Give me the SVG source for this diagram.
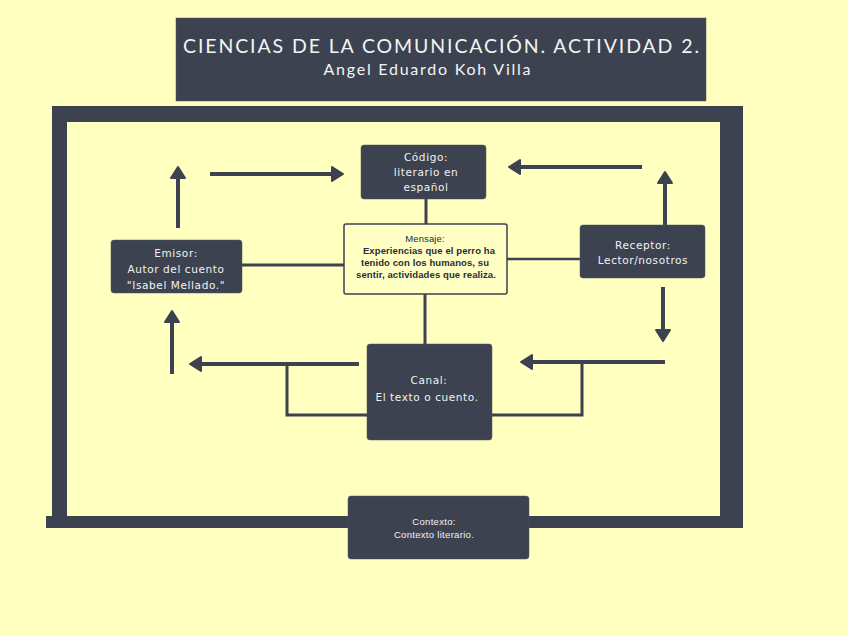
<svg xmlns="http://www.w3.org/2000/svg" width="848" height="636" viewBox="0 0 848 636">
<defs>
<style>
.dark{fill:#3d4250;stroke:#50556180;stroke-width:1}
.t{font-family:"DejaVu Sans",sans-serif;fill:#f2f2f2;text-anchor:middle}
.n{font-size:10.5px;letter-spacing:0.6px}
.m{font-family:"Liberation Sans",Arial,sans-serif;fill:#2a2d36;text-anchor:middle;font-size:9.5px;font-weight:bold;letter-spacing:0.1px}
.ln{stroke:#3d4250;stroke-width:3;fill:none}
.ar{stroke:#3d4250;stroke-width:4;fill:none;marker-end:url(#ah)}
.fr{fill:#3d4250}
.hd{font-family:"Lato","Open Sans",sans-serif;fill:#f4f4f4;text-anchor:middle;font-weight:400}
</style>
<marker id="ah" viewBox="-2 -9 15 18" refX="0" refY="0" markerWidth="15" markerHeight="18" markerUnits="userSpaceOnUse" orient="auto">
<path d="M0,-7 L11,0 L0,7 Z" fill="#3d4250" stroke="#3d4250" stroke-width="2" stroke-linejoin="round"/>
</marker>
</defs>
<rect width="848" height="636" fill="#ffffbf"/>

<g id="title">
<rect x="176" y="18" width="530" height="83" class="dark"/>
<text x="441" y="53" class="hd" style="font-size:19.5px" textLength="516">CIENCIAS DE LA COMUNICACIÓN. ACTIVIDAD 2.</text>
<text x="427" y="75" class="hd" style="font-size:16px" textLength="207">Angel Eduardo Koh Villa</text>
</g>

<g id="frame">
<rect x="52" y="106" width="691" height="16" class="fr"/>
<rect x="52" y="106" width="15" height="412" class="fr"/>
<rect x="720" y="106" width="23" height="422" class="fr"/>
<rect x="46" y="516" width="697" height="12" class="fr"/>
</g>

<g id="connectors">
<line x1="426" y1="199" x2="426" y2="224" class="ln"/>
<line x1="242" y1="265" x2="344" y2="265" class="ln"/>
<line x1="507" y1="259" x2="580" y2="259" class="ln" style="stroke-width:2.5"/>
<line x1="425" y1="294" x2="425" y2="344" class="ln"/>
<polyline points="367,415 287,415 287,364" class="ln"/>
<polyline points="492,415 582,415 582,362" class="ln"/>
<line x1="178" y1="228" x2="178" y2="178" class="ar"/>
<line x1="210" y1="174" x2="332" y2="174" class="ar"/>
<line x1="642" y1="167" x2="520" y2="167" class="ar"/>
<line x1="665" y1="225" x2="665" y2="183" class="ar"/>
<line x1="663" y1="287" x2="663" y2="330" class="ar"/>
<line x1="665" y1="362" x2="532" y2="362" class="ar"/>
<line x1="359" y1="364" x2="201" y2="364" class="ar"/>
<line x1="172" y1="374" x2="172" y2="322" class="ar"/>
</g>

<g id="codigo">
<rect x="361" y="145" width="125" height="54" rx="3" class="dark"/>
<text class="t n" x="426" y="161">Código:</text>
<text class="t n" x="426" y="176">literario en</text>
<text class="t n" x="426" y="191">español</text>
</g>

<g id="mensaje">
<rect x="344" y="224" width="163" height="70" rx="2" fill="#ffffc4" stroke="#3d4250" stroke-width="1.5"/>
<text class="m" x="425" y="241.5" style="font-weight:normal">Mensaje:</text>
<text class="m" x="429" y="253.5">Experiencias que el perro ha</text>
<text class="m" x="425" y="265.5">tenido con los humanos, su</text>
<text class="m" x="426" y="277.5">sentir, actividades que realiza.</text>
</g>

<g id="emisor">
<rect x="111" y="240" width="131" height="53" rx="3" class="dark"/>
<text class="t n" x="176" y="256.5">Emisor:</text>
<text class="t n" x="176" y="273">Autor del cuento</text>
<text class="t n" x="176" y="289">"Isabel Mellado."</text>
</g>

<g id="receptor">
<rect x="580" y="225" width="125" height="53" rx="3" class="dark"/>
<text class="t n" x="643" y="248.5">Receptor:</text>
<text class="t n" x="643" y="263.5">Lector/nosotros</text>
</g>

<g id="canal">
<rect x="367" y="344" width="125" height="96" rx="3" class="dark"/>
<text class="t n" x="429" y="384">Canal:</text>
<text class="t n" x="427" y="401">El texto o cuento.</text>
</g>

<g id="contexto">
<rect x="348" y="496" width="181" height="63" rx="3" class="dark"/>
<text class="t" style="font-family:'Liberation Sans',Arial,sans-serif;font-size:9.5px;letter-spacing:0.3px" x="434" y="525">Contexto:</text>
<text class="t" style="font-family:'Liberation Sans',Arial,sans-serif;font-size:9.5px;letter-spacing:0.3px" x="434" y="537.5">Contexto literario.</text>
</g>
</svg>
